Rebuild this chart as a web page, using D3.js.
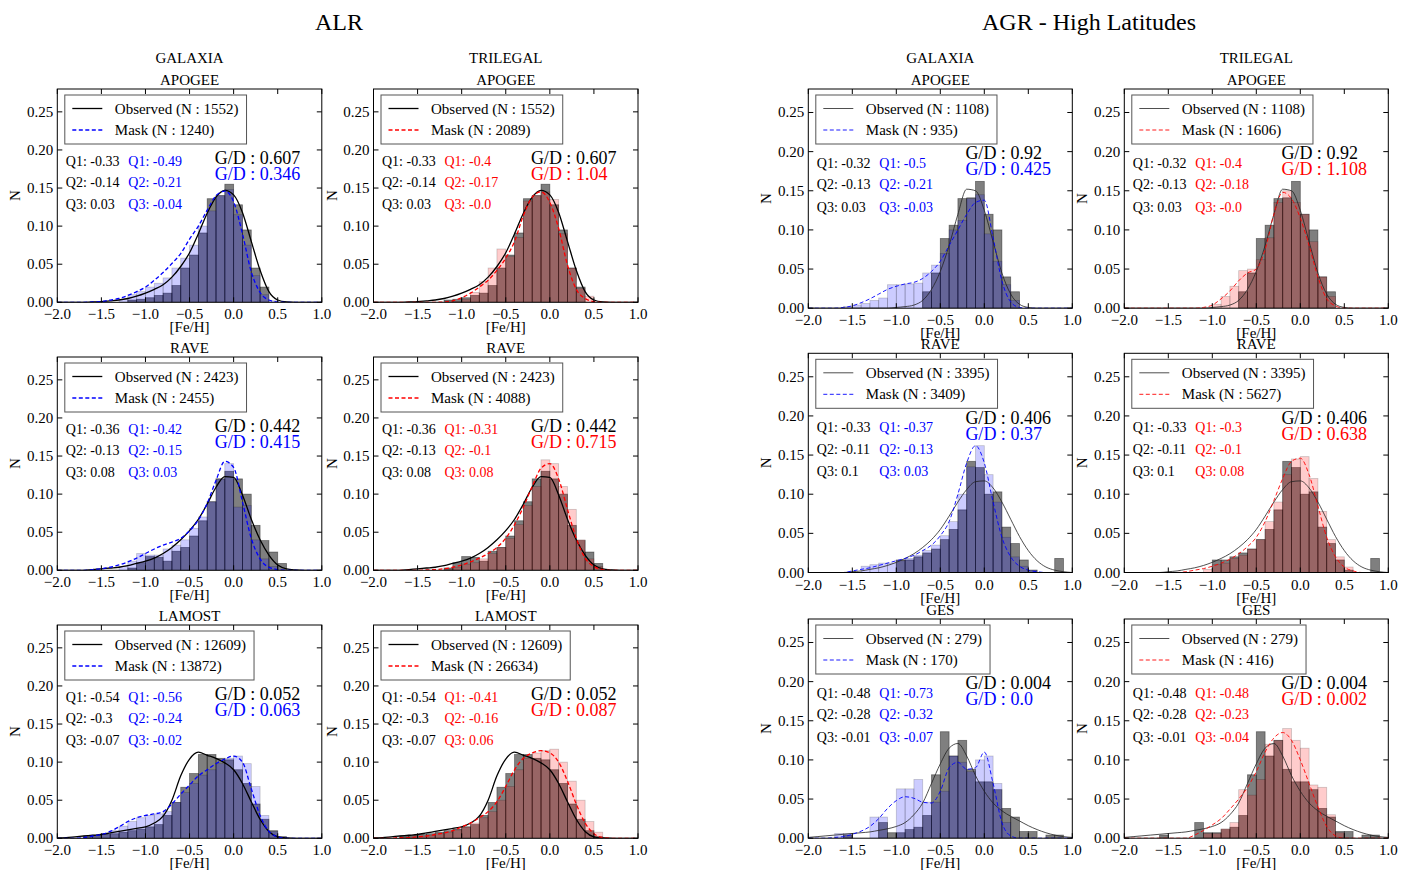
<!DOCTYPE html>
<html><head><meta charset="utf-8">
<script src="https://cdnjs.cloudflare.com/ajax/libs/d3/7.8.5/d3.min.js"></script>
<style>
body{margin:0;background:#fff}
svg{display:block}
text{font-family:"Liberation Serif","Times New Roman",serif;fill:#000}
</style>
</head><body>
<svg id="c" width="1413" height="870"></svg>
<script>
// ---------- DATA ----------
const groupTitles = ["ALR", "AGR - High Latitudes"];
const modelNames = ["GALAXIA", "TRILEGAL"];
const surveysALR = ["APOGEE", "RAVE", "LAMOST"];
const surveysAGR = ["APOGEE", "RAVE", "GES"];
const xTicks = [-2.0, -1.5, -1.0, -0.5, 0.0, 0.5, 1.0];
const yTicks = [0.00, 0.05, 0.10, 0.15, 0.20, 0.25];
// left edges of the 0.1-wide [Fe/H] bins
const binStarts = [-2.0,-1.9,-1.8,-1.7,-1.6,-1.5,-1.4,-1.3,-1.2,-1.1,-1.0,-0.9,-0.8,-0.7,-0.6,-0.5,-0.4,-0.3,-0.2,-0.1,0.0,0.1,0.2,0.3,0.4,0.5,0.6,0.7,0.8,0.9];
// sample points of the smooth curves
const curveX = [-2.0,-1.9,-1.8,-1.7,-1.6,-1.5,-1.4,-1.3,-1.2,-1.1,-1.0,-0.9,-0.8,-0.7,-0.6,-0.5,-0.4,-0.3,-0.2,-0.1,0.0,0.1,0.2,0.3,0.4,0.5,0.6,0.7,0.8,0.9,1.0];

// ALR - APOGEE
const alrApogeeObsHist = [0,0,0,0,0, 0,0,0,0.003,0.004, 0.006,0.009,0.012,0.022,0.045, 0.062,0.091,0.136,0.14,0.155, 0.128,0.095,0.045,0.02,0, 0,0,0,0,0];
const alrApogeeObsCurve = [0,0,0,0,0.0005, 0.001,0.002,0.003,0.005,0.008, 0.012,0.017,0.023,0.033,0.047, 0.065,0.09,0.117,0.138,0.147, 0.141,0.118,0.08,0.042,0.014, 0.003,0.0005,0,0,0, 0];
const alrApogeeGalHist = [0,0,0,0,0, 0,0,0.004,0.01,0.014, 0.02,0.025,0.032,0.045,0.058, 0.075,0.1,0.12,0.14,0.148, 0.115,0.075,0.035,0.01,0.002, 0,0,0,0,0];
const alrApogeeGalCurve = [0,0,0,0,0.0005, 0.001,0.003,0.005,0.009,0.014, 0.02,0.029,0.039,0.051,0.064, 0.083,0.1,0.121,0.14,0.146, 0.132,0.09,0.04,0.013,0.003, 0.0005,0,0,0,0, 0];
const alrApogeeTriHist = [0,0,0,0,0, 0,0,0,0,0.001, 0.004,0.013,0.027,0.045,0.07, 0.06,0.085,0.133,0.14,0.145, 0.135,0.09,0.045,0.018,0.008, 0,0,0,0,0];
const alrApogeeTriCurve = [0,0,0,0,0, 0,0,0,0.0005,0.002, 0.006,0.012,0.02,0.029,0.042, 0.058,0.08,0.114,0.138,0.145, 0.131,0.097,0.049,0.017,0.005, 0.001,0,0,0,0, 0];
// ALR - RAVE
const alrRaveObsHist = [0,0,0,0,0, 0,0,0,0.003,0.01, 0.018,0.017,0.012,0.025,0.03, 0.045,0.065,0.09,0.12,0.13, 0.12,0.1,0.059,0.039,0.024, 0.009,0,0,0,0];
const alrRaveObsCurve = [0,0,0,0,0.001, 0.002,0.003,0.004,0.006,0.009, 0.012,0.016,0.022,0.03,0.04, 0.052,0.067,0.087,0.109,0.123, 0.122,0.099,0.067,0.04,0.02, 0.007,0.002,0.0005,0,0, 0];
const alrRaveGalHist = [0,0,0,0,0, 0,0,0.005,0.012,0.022, 0.02,0.02,0.028,0.033,0.04, 0.055,0.07,0.09,0.12,0.14, 0.083,0.085,0.04,0.015,0.005, 0,0,0,0,0];
const alrRaveGalCurve = [0,0,0,0,0.001, 0.002,0.004,0.007,0.011,0.016, 0.022,0.028,0.033,0.037,0.042, 0.052,0.066,0.088,0.118,0.143, 0.135,0.09,0.042,0.015,0.004, 0.001,0,0,0,0, 0];
const alrRaveTriHist = [0,0,0,0,0, 0,0,0,0.001,0.004, 0.008,0.01,0.015,0.022,0.03, 0.042,0.06,0.085,0.11,0.145, 0.14,0.11,0.08,0.04,0.015, 0.005,0,0,0,0];
const alrRaveTriCurve = [0,0,0,0,0, 0,0.0005,0.001,0.002,0.004, 0.007,0.011,0.016,0.022,0.03, 0.042,0.06,0.083,0.11,0.134, 0.14,0.12,0.08,0.042,0.016, 0.005,0.001,0,0,0, 0];
// ALR - LAMOST
const alrLamostObsHist = [0,0,0,0.003,0.004, 0.005,0.006,0.008,0.01,0.012, 0.015,0.018,0.03,0.047,0.067, 0.085,0.11,0.11,0.105,0.103, 0.09,0.072,0.045,0.025,0.01, 0.002,0,0,0,0];
const alrLamostObsCurve = [0.0005,0.001,0.002,0.003,0.004, 0.005,0.007,0.009,0.011,0.013, 0.015,0.02,0.029,0.05,0.082, 0.104,0.113,0.109,0.105,0.099, 0.09,0.072,0.048,0.025,0.009, 0.002,0.0005,0,0,0, 0];
const alrLamostGalHist = [0,0,0,0.001,0.003, 0.006,0.01,0.016,0.022,0.027, 0.03,0.032,0.035,0.047,0.06, 0.072,0.083,0.09,0.098,0.105, 0.108,0.098,0.068,0.03,0.009, 0.002,0,0,0,0];
const alrLamostGalCurve = [0,0,0,0.001,0.003, 0.005,0.009,0.015,0.022,0.027, 0.03,0.032,0.035,0.045,0.058, 0.07,0.082,0.09,0.098,0.104, 0.108,0.1,0.065,0.03,0.009, 0.002,0,0,0,0, 0];
const alrLamostTriHist = [0,0,0,0.001,0.002, 0.003,0.004,0.006,0.008,0.011, 0.015,0.02,0.027,0.035,0.05, 0.068,0.09,0.105,0.112,0.115, 0.117,0.1,0.075,0.05,0.022, 0.008,0.001,0,0,0];
const alrLamostTriCurve = [0,0,0,0.001,0.001, 0.002,0.003,0.005,0.007,0.01, 0.015,0.02,0.027,0.035,0.048, 0.068,0.09,0.105,0.112,0.115, 0.112,0.1,0.075,0.045,0.02, 0.006,0.001,0,0,0, 0];
// AGR - APOGEE
const agrApogeeObsHist = [0,0,0,0,0, 0,0,0,0,0, 0,0,0,0.021,0.045, 0.089,0.106,0.14,0.141,0.162, 0.12,0.1,0.04,0.021,0, 0,0,0,0,0];
const agrApogeeObsCurve = [0,0,0,0,0, 0,0,0,0,0, 0.001,0.002,0.004,0.01,0.024, 0.047,0.08,0.12,0.152,0.15, 0.125,0.085,0.045,0.018,0.005, 0.001,0,0,0,0, 0];
const agrApogeeGalHist = [0,0,0,0,0.002, 0.004,0.006,0.01,0.013,0.03, 0.03,0.031,0.032,0.045,0.055, 0.07,0.1,0.112,0.14,0.145, 0.095,0.06,0.03,0.01,0, 0,0,0,0,0];
const agrApogeeGalCurve = [0,0,0,0,0.001, 0.003,0.007,0.012,0.018,0.024, 0.028,0.031,0.033,0.038,0.047, 0.06,0.08,0.1,0.12,0.135, 0.138,0.09,0.035,0.008,0.001, 0,0,0,0,0, 0];
const agrApogeeTriHist = [0,0,0,0,0, 0,0,0,0,0, 0.005,0.015,0.028,0.048,0.05, 0.062,0.09,0.135,0.15,0.135, 0.12,0.085,0.04,0.015,0, 0,0,0,0,0];
const agrApogeeTriCurve = [0,0,0,0,0, 0,0,0,0,0.001, 0.004,0.012,0.022,0.035,0.045, 0.05,0.075,0.12,0.148,0.14, 0.115,0.08,0.04,0.012,0.003, 0,0,0,0,0, 0];
// AGR - RAVE
const agrRaveObsHist = [0,0,0,0,0, 0,0,0,0,0, 0.016,0.016,0.02,0.025,0.03, 0.042,0.055,0.08,0.142,0.134, 0.1,0.103,0.058,0.037,0.016, 0.003,0,0,0.018,0];
const agrRaveObsCurve = [0,0,0,0,0, 0.001,0.002,0.004,0.006,0.009, 0.013,0.018,0.024,0.032,0.042, 0.055,0.072,0.09,0.106,0.116, 0.117,0.108,0.09,0.068,0.046, 0.028,0.015,0.007,0.003,0.001, 0];
const agrRaveGalHist = [0,0,0,0,0, 0,0.008,0.01,0.012,0.012, 0.015,0.018,0.022,0.028,0.035, 0.047,0.065,0.1,0.135,0.162, 0.125,0.09,0.045,0.02,0.008, 0.003,0,0,0,0];
const agrRaveGalCurve = [0,0,0,0,0, 0.002,0.004,0.006,0.009,0.012, 0.015,0.018,0.022,0.028,0.035, 0.047,0.065,0.1,0.14,0.162, 0.14,0.09,0.045,0.02,0.008, 0.003,0.001,0,0,0, 0];
const agrRaveTriHist = [0,0,0,0,0, 0,0,0,0,0.004, 0.01,0.012,0.018,0.022,0.03, 0.042,0.065,0.09,0.125,0.145, 0.148,0.12,0.078,0.042,0.02, 0.007,0,0,0,0];
const agrRaveTriCurve = [0,0,0,0,0, 0,0,0.001,0.003,0.005, 0.008,0.012,0.017,0.024,0.033, 0.045,0.065,0.092,0.12,0.142, 0.146,0.125,0.085,0.045,0.02, 0.007,0.002,0,0,0, 0];
// AGR - GES
const agrGesObsHist = [0,0,0,0,0.004, 0,0,0,0.02,0.007, 0.007,0.011,0.014,0.029,0.081, 0.136,0.105,0.125,0.088,0.072, 0.072,0.062,0.038,0.027,0.0085, 0.0085,0,0.004,0.004,0];
const agrGesObsCurve = [0.001,0.002,0.003,0.004,0.005, 0.006,0.007,0.008,0.01,0.012, 0.015,0.02,0.03,0.045,0.07, 0.095,0.115,0.121,0.105,0.08, 0.06,0.045,0.035,0.028,0.022, 0.016,0.011,0.007,0.004,0.002, 0.001];
const agrGesGalHist = [0,0,0,0.006,0.006, 0,0,0.027,0.027,0, 0.063,0.063,0.075,0.046,0.046, 0.06,0.105,0.097,0.085,0.1, 0.105,0.07,0.02,0,0, 0,0,0,0,0];
const agrGesGalCurve = [0,0,0,0.001,0.002, 0.005,0.009,0.015,0.025,0.038, 0.048,0.053,0.051,0.046,0.045, 0.06,0.09,0.097,0.088,0.09, 0.11,0.07,0.02,0.003,0, 0,0,0,0,0, 0];
const agrGesTriHist = [0,0,0,0,0, 0,0,0,0,0.006, 0.006,0.012,0.02,0.062,0.055, 0.075,0.12,0.125,0.14,0.125, 0.115,0.068,0.065,0.03,0.007, 0,0,0,0,0];
const agrGesTriCurve = [0,0,0,0,0, 0,0,0,0.004,0.01, 0.017,0.025,0.037,0.05,0.065, 0.085,0.11,0.128,0.135,0.125, 0.1,0.07,0.04,0.015,0.003, 0,0,0,0,0, 0];

// sample sizes, quartiles, G/D
const alrObsN = [1552, 2423, 12609];
const alrGalN = [1240, 2455, 13872];
const alrTriN = [2089, 4088, 26634];
const agrObsN = [1108, 3395, 279];
const agrGalN = [935, 3409, 170];
const agrTriN = [1606, 5627, 416];
const alrObsQ = [["-0.33","-0.14","0.03"],["-0.36","-0.13","0.08"],["-0.54","-0.3","-0.07"]];
const alrGalQ = [["-0.49","-0.21","-0.04"],["-0.42","-0.15","0.03"],["-0.56","-0.24","-0.02"]];
const alrTriQ = [["-0.4","-0.17","-0.0"],["-0.31","-0.1","0.08"],["-0.41","-0.16","0.06"]];
const agrObsQ = [["-0.32","-0.13","0.03"],["-0.33","-0.11","0.1"],["-0.48","-0.28","-0.01"]];
const agrGalQ = [["-0.5","-0.21","-0.03"],["-0.37","-0.13","0.03"],["-0.73","-0.32","-0.07"]];
const agrTriQ = [["-0.4","-0.18","-0.0"],["-0.3","-0.1","0.08"],["-0.48","-0.23","-0.04"]];
const alrObsGD = ["0.607", "0.442", "0.052"];
const alrGalGD = ["0.346", "0.415", "0.063"];
const alrTriGD = ["1.04", "0.715", "0.087"];
const agrObsGD = ["0.92", "0.406", "0.004"];
const agrGalGD = ["0.425", "0.37", "0.0"];
const agrTriGD = ["1.108", "0.638", "0.002"];

// ---------- LAYOUT ----------
const modelColors = ["#0000ff", "#ff0000"];
const groups = [
  { title: groupTitles[0], titleX: 339, cols: [57.3, 373.5], w: 264.5, rows: [89, 357, 625], h: 213.3,
    gd: [0.322, 0.40], lw: 1.3, dlw: 1.3, lineCol: "#000", surveys: surveysALR,
    obsHist: [alrApogeeObsHist, alrRaveObsHist, alrLamostObsHist],
    obsCurve: [alrApogeeObsCurve, alrRaveObsCurve, alrLamostObsCurve],
    maskHist: [[alrApogeeGalHist, alrApogeeTriHist],[alrRaveGalHist, alrRaveTriHist],[alrLamostGalHist, alrLamostTriHist]],
    maskCurve: [[alrApogeeGalCurve, alrApogeeTriCurve],[alrRaveGalCurve, alrRaveTriCurve],[alrLamostGalCurve, alrLamostTriCurve]],
    obsN: alrObsN, maskN: [alrGalN, alrTriN], obsQ: alrObsQ, maskQ: [alrGalQ, alrTriQ], obsGD: alrObsGD, maskGD: [alrGalGD, alrTriGD] },
  { title: groupTitles[1], titleX: 1089, cols: [808.3, 1124.3], w: 264, rows: [89, 353.3, 619], h: 219.2,
    gd: [0.293, 0.366], lw: 0.8, dlw: 0.9, lineCol: "#222", surveys: surveysAGR,
    obsHist: [agrApogeeObsHist, agrRaveObsHist, agrGesObsHist],
    obsCurve: [agrApogeeObsCurve, agrRaveObsCurve, agrGesObsCurve],
    maskHist: [[agrApogeeGalHist, agrApogeeTriHist],[agrRaveGalHist, agrRaveTriHist],[agrGesGalHist, agrGesTriHist]],
    maskCurve: [[agrApogeeGalCurve, agrApogeeTriCurve],[agrRaveGalCurve, agrRaveTriCurve],[agrGesGalCurve, agrGesTriCurve]],
    obsN: agrObsN, maskN: [agrGalN, agrTriN], obsQ: agrObsQ, maskQ: [agrGalQ, agrTriQ], obsGD: agrObsGD, maskGD: [agrGalGD, agrTriGD] }
];

const svg = d3.select("#c");
const fmtX = d3.format(".1f"), fmtY = d3.format(".2f");
let clipId = 0;

groups.forEach(g => {
  svg.append("text").attr("x", g.titleX).attr("y", 30).attr("text-anchor", "middle")
    .style("font-size", "24px").text(g.title);

  g.rows.forEach((y0, r) => {
    g.cols.forEach((x0, c) => {
      const w = g.w, h = g.h;
      const col = modelColors[c];
      const x = d3.scaleLinear().domain([-2, 1]).range([x0, x0 + w]);
      const y = d3.scaleLinear().domain([0, 0.28]).range([y0 + h, y0]);
      const gp = svg.append("g");
      const cid = "clip" + (clipId++);
      gp.append("clipPath").attr("id", cid).append("rect")
        .attr("x", x0).attr("y", y0).attr("width", w).attr("height", h);
      const plot = gp.append("g").attr("clip-path", `url(#${cid})`);

      const obsH = g.obsHist[r], mH = g.maskHist[r][c];
      plot.selectAll(".ob").data(binStarts.map((b, i) => ({ b, v: obsH[i] })).filter(d => d.v > 0))
        .enter().append("rect")
        .attr("x", d => x(d.b)).attr("width", d => x(d.b + 0.1) - x(d.b))
        .attr("y", d => y(d.v)).attr("height", d => y(0) - y(d.v))
        .attr("fill", "rgba(0,0,0,0.5)").attr("stroke", "rgba(0,0,0,0.45)").attr("stroke-width", 0.8);
      plot.selectAll(".mb").data(binStarts.map((b, i) => ({ b, v: mH[i] })).filter(d => d.v > 0))
        .enter().append("rect")
        .attr("x", d => x(d.b)).attr("width", d => x(d.b + 0.1) - x(d.b))
        .attr("y", d => y(d.v)).attr("height", d => y(0) - y(d.v))
        .attr("fill", col).attr("fill-opacity", 0.2)
        .attr("stroke", "rgba(0,0,0,0.2)").attr("stroke-width", 0.8);

      const line = d3.line().x((d, i) => x(curveX[i])).y(d => y(d)).curve(d3.curveMonotoneX);
      plot.append("path").attr("d", line(g.obsCurve[r])).attr("fill", "none")
        .attr("stroke", g.lineCol).attr("stroke-width", g.lw);
      plot.append("path").attr("d", line(g.maskCurve[r][c])).attr("fill", "none")
        .attr("stroke", col).attr("stroke-width", g.dlw).attr("stroke-dasharray", "4,2.5");

      gp.append("rect").attr("x", x0).attr("y", y0).attr("width", w).attr("height", h)
        .attr("fill", "none").attr("stroke", "#000").attr("stroke-width", 1);
      const tl = 5;
      xTicks.forEach(t => {
        const xx = x(t);
        gp.append("line").attr("x1", xx).attr("x2", xx).attr("y1", y0 + h).attr("y2", y0 + h - tl).attr("stroke", "#000");
        gp.append("line").attr("x1", xx).attr("x2", xx).attr("y1", y0).attr("y2", y0 + tl).attr("stroke", "#000");
        gp.append("text").attr("x", xx).attr("y", y0 + h + 17).attr("text-anchor", "middle")
          .style("font-size", "15px").text(fmtX(t));
      });
      yTicks.forEach(t => {
        const yy = y(t);
        gp.append("line").attr("x1", x0).attr("x2", x0 + tl).attr("y1", yy).attr("y2", yy).attr("stroke", "#000");
        gp.append("line").attr("x1", x0 + w).attr("x2", x0 + w - tl).attr("y1", yy).attr("y2", yy).attr("stroke", "#000");
        gp.append("text").attr("x", x0 - 4).attr("y", yy + 5).attr("text-anchor", "end")
          .style("font-size", "15px").text(fmtY(t));
      });
      gp.append("text").attr("x", x0 + w / 2).attr("y", y0 + h + 30).attr("text-anchor", "middle")
        .style("font-size", "15px").text("[Fe/H]");
      gp.append("text").attr("transform", `translate(${x0 - 37},${y0 + h / 2}) rotate(-90)`)
        .attr("text-anchor", "middle").style("font-size", "15px").text("N");
      if (r === 0) {
        gp.append("text").attr("x", x0 + w / 2).attr("y", y0 - 26).attr("text-anchor", "middle")
          .style("font-size", "15px").text(modelNames[c]);
      }
      gp.append("text").attr("x", x0 + w / 2).attr("y", y0 - 4).attr("text-anchor", "middle")
        .style("font-size", "15px").text(g.surveys[r]);

      const lg = gp.append("g");
      const box = lg.append("rect").attr("x", x0 + 7.5).attr("y", y0 + 6).attr("height", 49)
        .attr("fill", "#fff").attr("stroke", "#555").attr("stroke-width", 1);
      lg.append("line").attr("x1", x0 + 15).attr("x2", x0 + 45).attr("y1", y0 + 19.5).attr("y2", y0 + 19.5)
        .attr("stroke", g.lineCol).attr("stroke-width", g.lw);
      lg.append("line").attr("x1", x0 + 15).attr("x2", x0 + 45).attr("y1", y0 + 41).attr("y2", y0 + 41)
        .attr("stroke", col).attr("stroke-width", g.dlw).attr("stroke-dasharray", "4,2.5");
      const t1 = lg.append("text").attr("x", x0 + 57.5).attr("y", y0 + 24.5).style("font-size", "15px")
        .text(`Observed (N : ${g.obsN[r]})`);
      const t2 = lg.append("text").attr("x", x0 + 57.5).attr("y", y0 + 46).style("font-size", "15px")
        .text(`Mask (N : ${g.maskN[c][r]})`);
      const tw = Math.max(t1.node().getComputedTextLength(), t2.node().getComputedTextLength());
      box.attr("width", 57.5 + tw + 8 - 7.5);

      const qy = [0.3375, 0.4345, 0.539];
      ["Q1", "Q2", "Q3"].forEach((q, k) => {
        const yy = y0 + qy[k] * h + 5;
        gp.append("text").attr("x", x0 + 8.5).attr("y", yy).style("font-size", "14px")
          .text(`${q}: ${g.obsQ[r][k]}`);
        gp.append("text").attr("x", x0 + 71).attr("y", yy).style("font-size", "14px")
          .style("fill", col).text(`${q}: ${g.maskQ[c][r][k]}`);
      });
      gp.append("text").attr("x", x0 + 0.595 * w).attr("y", y0 + g.gd[0] * h + 6).style("font-size", "18px")
        .text(`G/D : ${g.obsGD[r]}`);
      gp.append("text").attr("x", x0 + 0.595 * w).attr("y", y0 + g.gd[1] * h + 6).style("font-size", "18px")
        .style("fill", col).text(`G/D : ${g.maskGD[c][r]}`);
    });
  });
});
</script>
</body></html>
